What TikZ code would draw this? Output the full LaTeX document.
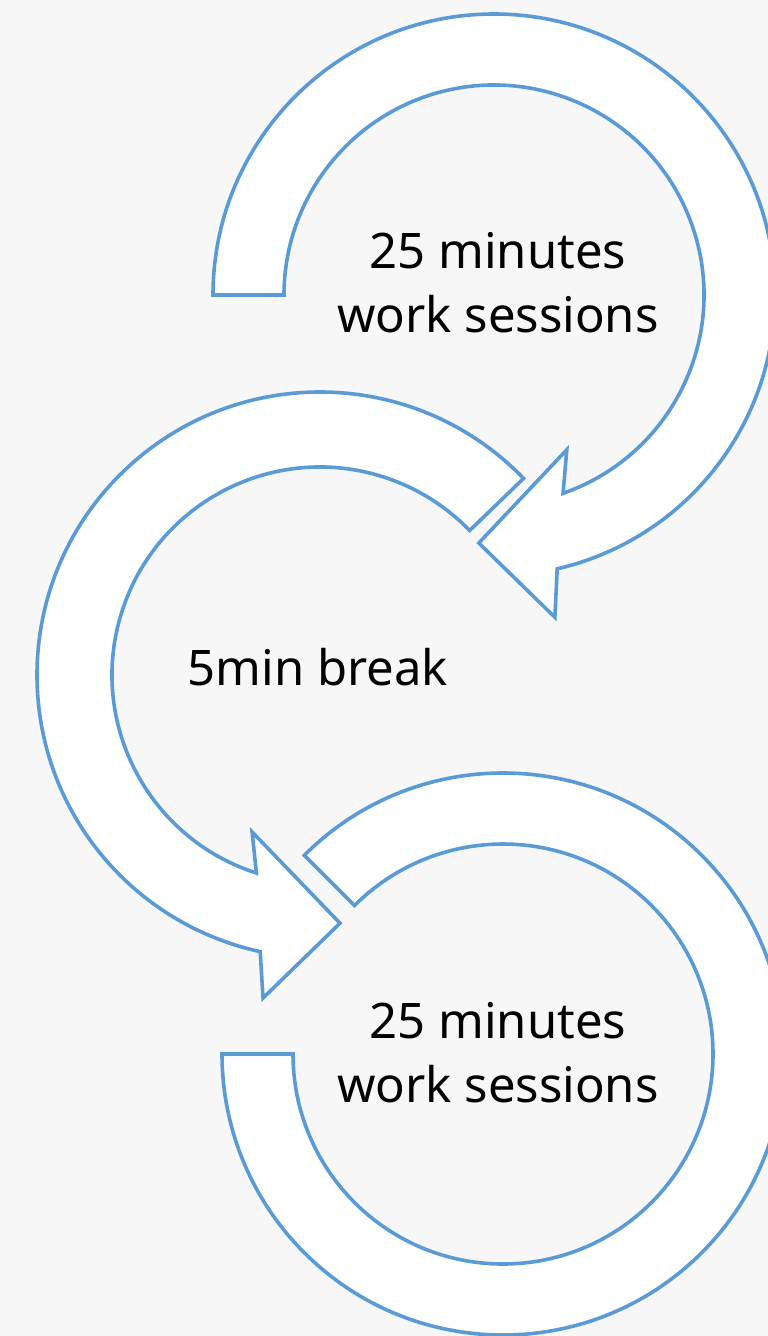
\documentclass[tikz,border=0pt]{standalone}
\usepackage{fontspec}
\setmainfont{Noto Sans}
\usetikzlibrary{calc}
\definecolor{bg}{HTML}{F7F7F7}
\definecolor{arrowline}{HTML}{5B9BD5}
\begin{document}
\begin{tikzpicture}[x=1pt,y=1pt,
  cyclearrow/.style={draw=arrowline, line width=3.6pt, fill=white, line join=miter},
  label/.style={font=\fontsize{49}{64}\selectfont, text=black, anchor=base, inner sep=0pt}]
\useasboundingbox (0,0) rectangle (768,-1336);
\fill[bg] (0,0) rectangle (768,-1336);
\clip (0,0) rectangle (768,-1336);
% centres
\coordinate (T) at (494,-295);
\coordinate (M) at (320,-675);
\coordinate (B) at (503,-1054);
% top arrow: clockwise from the left, head at bottom
\draw[cyclearrow] ($(T)+(180:210)$) -- ($(T)+(180:281)$)
  arc[start angle=180, end angle=-77, radius=281]
  -- ($(T)+(-79.3:328)$) -- ($(T)+(-93.5:248.5)$) -- ($(T)+(-64.8:171)$)
  -- ($(T)+(-70.8:210)$)
  arc[start angle=-70.8, end angle=180, radius=210] -- cycle;
% middle arrow: counter-clockwise from upper right, head at bottom
\draw[cyclearrow] ($(M)+(44:208)$) -- ($(M)+(44:283)$)
  arc[start angle=44, end angle=257.8, radius=283]
  -- ($(M)+(260:328)$) -- ($(M)+(274.6:249)$) -- ($(M)+(246.6:171)$)
  -- ($(M)+(252.2:208)$)
  arc[start angle=252.2, end angle=44, radius=208] -- cycle;
% bottom arrow: clockwise from upper left to the left
\draw[cyclearrow] ($(B)+(135:210)$) -- ($(B)+(135:281)$)
  arc[start angle=135, end angle=-180, radius=281]
  -- ($(B)+(180:210)$)
  arc[start angle=-180, end angle=135, radius=210] -- cycle;
% labels
\node[label] (t1a) at (498,-268) {25 minutes};
\node[label] (t1b) at (498,-332) {work sessions};
\node[label] (t2) at (318,-685) {5min break};
\node[label] (t3a) at (498,-1038) {25 minutes};
\node[label] (t3b) at (498,-1102) {work sessions};
\end{tikzpicture}
\end{document}
